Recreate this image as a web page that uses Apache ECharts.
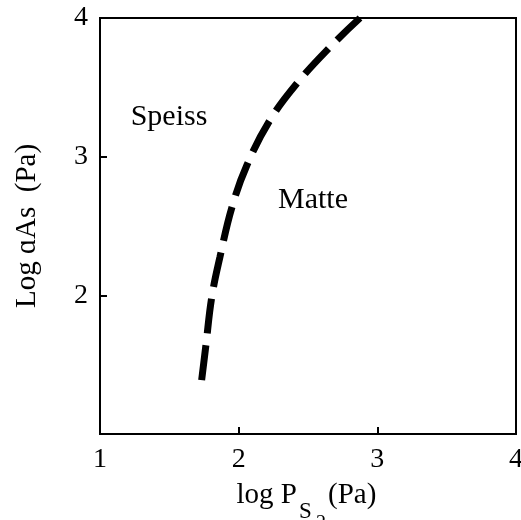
<!DOCTYPE html>
<html>
<head>
<meta charset="utf-8">
<script src="https://cdn.jsdelivr.net/npm/echarts@6/dist/echarts.min.js"></script>
<style>
  html, body { margin: 0; padding: 0; background: #fff; }
  #chart { width: 521px; height: 520px; }
</style>
</head>
<body>
<div id="chart"></div>
<script>
// Speiss / matte boundary: log P(S2) against log a(As), both in Pa
const boundaryLogPS2 = [1.733, 1.764, 1.805, 1.865, 1.952, 2.060, 2.226, 2.428, 2.673, 2.875];
const boundaryLogAAs = [1.389, 1.642, 1.981, 2.276, 2.637, 2.940, 3.264, 3.538, 3.805, 4.000];

const xTicks = [1, 2, 3, 4];
const yTicks = [2, 3, 4];

const serif = "'Liberation Serif', 'Times New Roman', serif";

const chart = echarts.init(document.getElementById('chart'));

const boundary = boundaryLogPS2.map((x, i) => [x, boundaryLogAAs[i]]);

chart.setOption({
  animation: false,
  backgroundColor: '#fff',
  grid: {
    left: 100, right: 5, top: 18, bottom: 86,
    outerBoundsMode: 'none',
    containLabel: false,
    show: true, borderColor: '#000', borderWidth: 2, backgroundColor: 'transparent'
  },
  xAxis: {
    type: 'value', min: 1, max: 4, interval: 1,
    axisLine: { show: true, onZero: false, lineStyle: { color: '#000', width: 2 } },
    axisTick: { show: true, inside: true, length: 7, lineStyle: { color: '#000', width: 2 } },
    splitLine: { show: false },
    axisLabel: {
      color: '#000', fontFamily: serif, fontSize: 28, margin: 12,
      formatter: v => (xTicks.includes(v) ? String(v) : '')
    }
  },
  yAxis: {
    type: 'value', min: 1, max: 4, interval: 1,
    name: 'Log ɑAs  (Pa)',
    nameLocation: 'middle', nameRotate: 90, nameGap: 58,
    nameTextStyle: { color: '#000', fontFamily: serif, fontSize: 29 },
    axisLine: { show: true, onZero: false, lineStyle: { color: '#000', width: 2 } },
    axisTick: { show: true, inside: true, length: 7, lineStyle: { color: '#000', width: 2 } },
    splitLine: { show: false },
    axisLabel: {
      color: '#000', fontFamily: serif, fontSize: 28, margin: 12,
      formatter: v => (yTicks.includes(v) ? String(v) : '')
    }
  },
  series: [{
    type: 'line',
    data: boundary,
    smooth: 0.4,
    showSymbol: false,
    symbol: 'none',
    lineStyle: { color: '#000', width: 7, type: [35, 12], cap: 'butt' }
  }],
  graphic: [
    {
      type: 'text', x: 169, y: 117,
      style: { text: 'Speiss', fill: '#000', font: '30px ' + serif, align: 'center', verticalAlign: 'middle' }
    },
    {
      type: 'text', x: 313, y: 200,
      style: { text: 'Matte', fill: '#000', font: '30px ' + serif, align: 'center', verticalAlign: 'middle' }
    },
    // x-axis title with stacked subscripts
    {
      type: 'text', x: 297, y: 495.5,
      style: { text: 'log P', fill: '#000', font: '29px ' + serif, align: 'right', verticalAlign: 'middle' }
    },
    {
      type: 'text', x: 299, y: 511.6,
      style: { text: 'S', fill: '#000', font: '23px ' + serif, align: 'left', verticalAlign: 'middle' }
    },
    {
      type: 'text', x: 316, y: 524,
      style: { text: '2', fill: '#000', font: '20px ' + serif, align: 'left', verticalAlign: 'middle' }
    },
    {
      type: 'text', x: 328, y: 495.5,
      style: { text: '(Pa)', fill: '#000', font: '29px ' + serif, align: 'left', verticalAlign: 'middle' }
    }
  ]
});
</script>
</body>
</html>
